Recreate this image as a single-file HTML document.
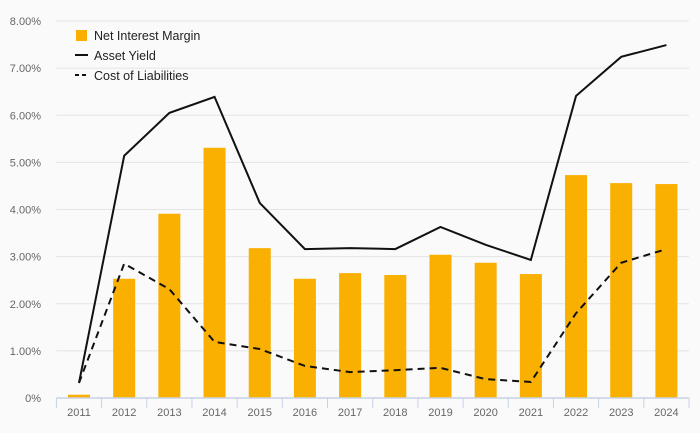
<!DOCTYPE html>
<html><head><meta charset="utf-8"><style>
body{margin:0;background:#fafafa;font-family:"Liberation Sans",sans-serif;}
svg{display:block}
</style></head><body>
<svg id="c" width="700" height="433"></svg>
<script>
const years=["2011","2012","2013","2014","2015","2016","2017","2018","2019","2020","2021","2022","2023","2024"];
const nim=[0.07,2.53,3.91,5.31,3.18,2.53,2.65,2.61,3.04,2.87,2.63,4.73,4.56,4.54];
const assetYield=[0.32,5.14,6.05,6.39,4.14,3.16,3.18,3.16,3.63,3.25,2.93,6.41,7.24,7.49];
const costLiab=[0.32,2.85,2.31,1.19,1.04,0.68,0.55,0.59,0.64,0.40,0.34,1.80,2.87,3.16];
const yTicks=[0,1,2,3,4,5,6,7,8];
const yLabels=["0%","1.00%","2.00%","3.00%","4.00%","5.00%","6.00%","7.00%","8.00%"];
const NS="http://www.w3.org/2000/svg";
const svg=document.getElementById('c');
const x0=56.4,x1=689,y0=398,yTop=21;
const step=(x1-x0)/years.length;
const X=i=>x0+step*(i+0.5);
const Y=v=>y0-(y0-yTop)*v/8;
function mk(t,a,p){const e=document.createElementNS(NS,t);for(const k in a)e.setAttribute(k,a[k]);(p||svg).appendChild(e);return e;}
yTicks.forEach((v,i)=>{
  if(v>0){const g=mk('line',{x1:x0,x2:x1,y1:Y(v),y2:Y(v),stroke:'#e4e4e4','stroke-width':1});
  
  }
  const t=mk('text',{x:41,y:Y(v)+4,'text-anchor':'end','font-size':11,fill:'#666'});
  t.textContent=yLabels[i];
  
  
});
nim.forEach((v,i)=>{
  const r=mk('rect',{x:X(i)-11,y:Y(v),width:22,height:y0-Y(v),fill:'#f9b000'});
  
  
});
const ax=mk('line',{x1:x0,x2:x1,y1:y0,y2:y0,stroke:'#c8d2e6','stroke-width':1.5});


for(let i=0;i<=years.length;i++){
  const tk=mk('line',{x1:x0+step*i,x2:x0+step*i,y1:y0,y2:y0+10,stroke:'#c8d2e6','stroke-width':1});
  
  
}
years.forEach((y,i)=>{
  const t=mk('text',{x:X(i),y:416,'text-anchor':'middle','font-size':11,fill:'#666'});
  t.textContent=y;
  
  
});
function pts(a){return a.map((v,i)=>X(i)+','+Y(v)).join(' ');}
const l1=mk('polyline',{points:pts(assetYield),fill:'none',stroke:'#111','stroke-width':2});


const l2=mk('polyline',{points:pts(costLiab),fill:'none',stroke:'#111','stroke-width':2,'stroke-dasharray':'7,5'});


const lg=mk('g',{});


const e1=mk('rect',{x:76,y:30,width:11,height:11,fill:'#f9b000'},lg);


const e2=mk('line',{x1:75,x2:88,y1:55,y2:55,stroke:'#111','stroke-width':2},lg);


const e3=mk('line',{x1:75,x2:88,y1:75,y2:75,stroke:'#111','stroke-width':2,'stroke-dasharray':'4,3'},lg);


[["Net Interest Margin",40],["Asset Yield",60],["Cost of Liabilities",80]].forEach(([s,y])=>{
  const t=mk('text',{x:94,y:y,'font-size':12.5,fill:'#222'},lg);
  t.textContent=s;
  
  
});
</script>
</body></html>
